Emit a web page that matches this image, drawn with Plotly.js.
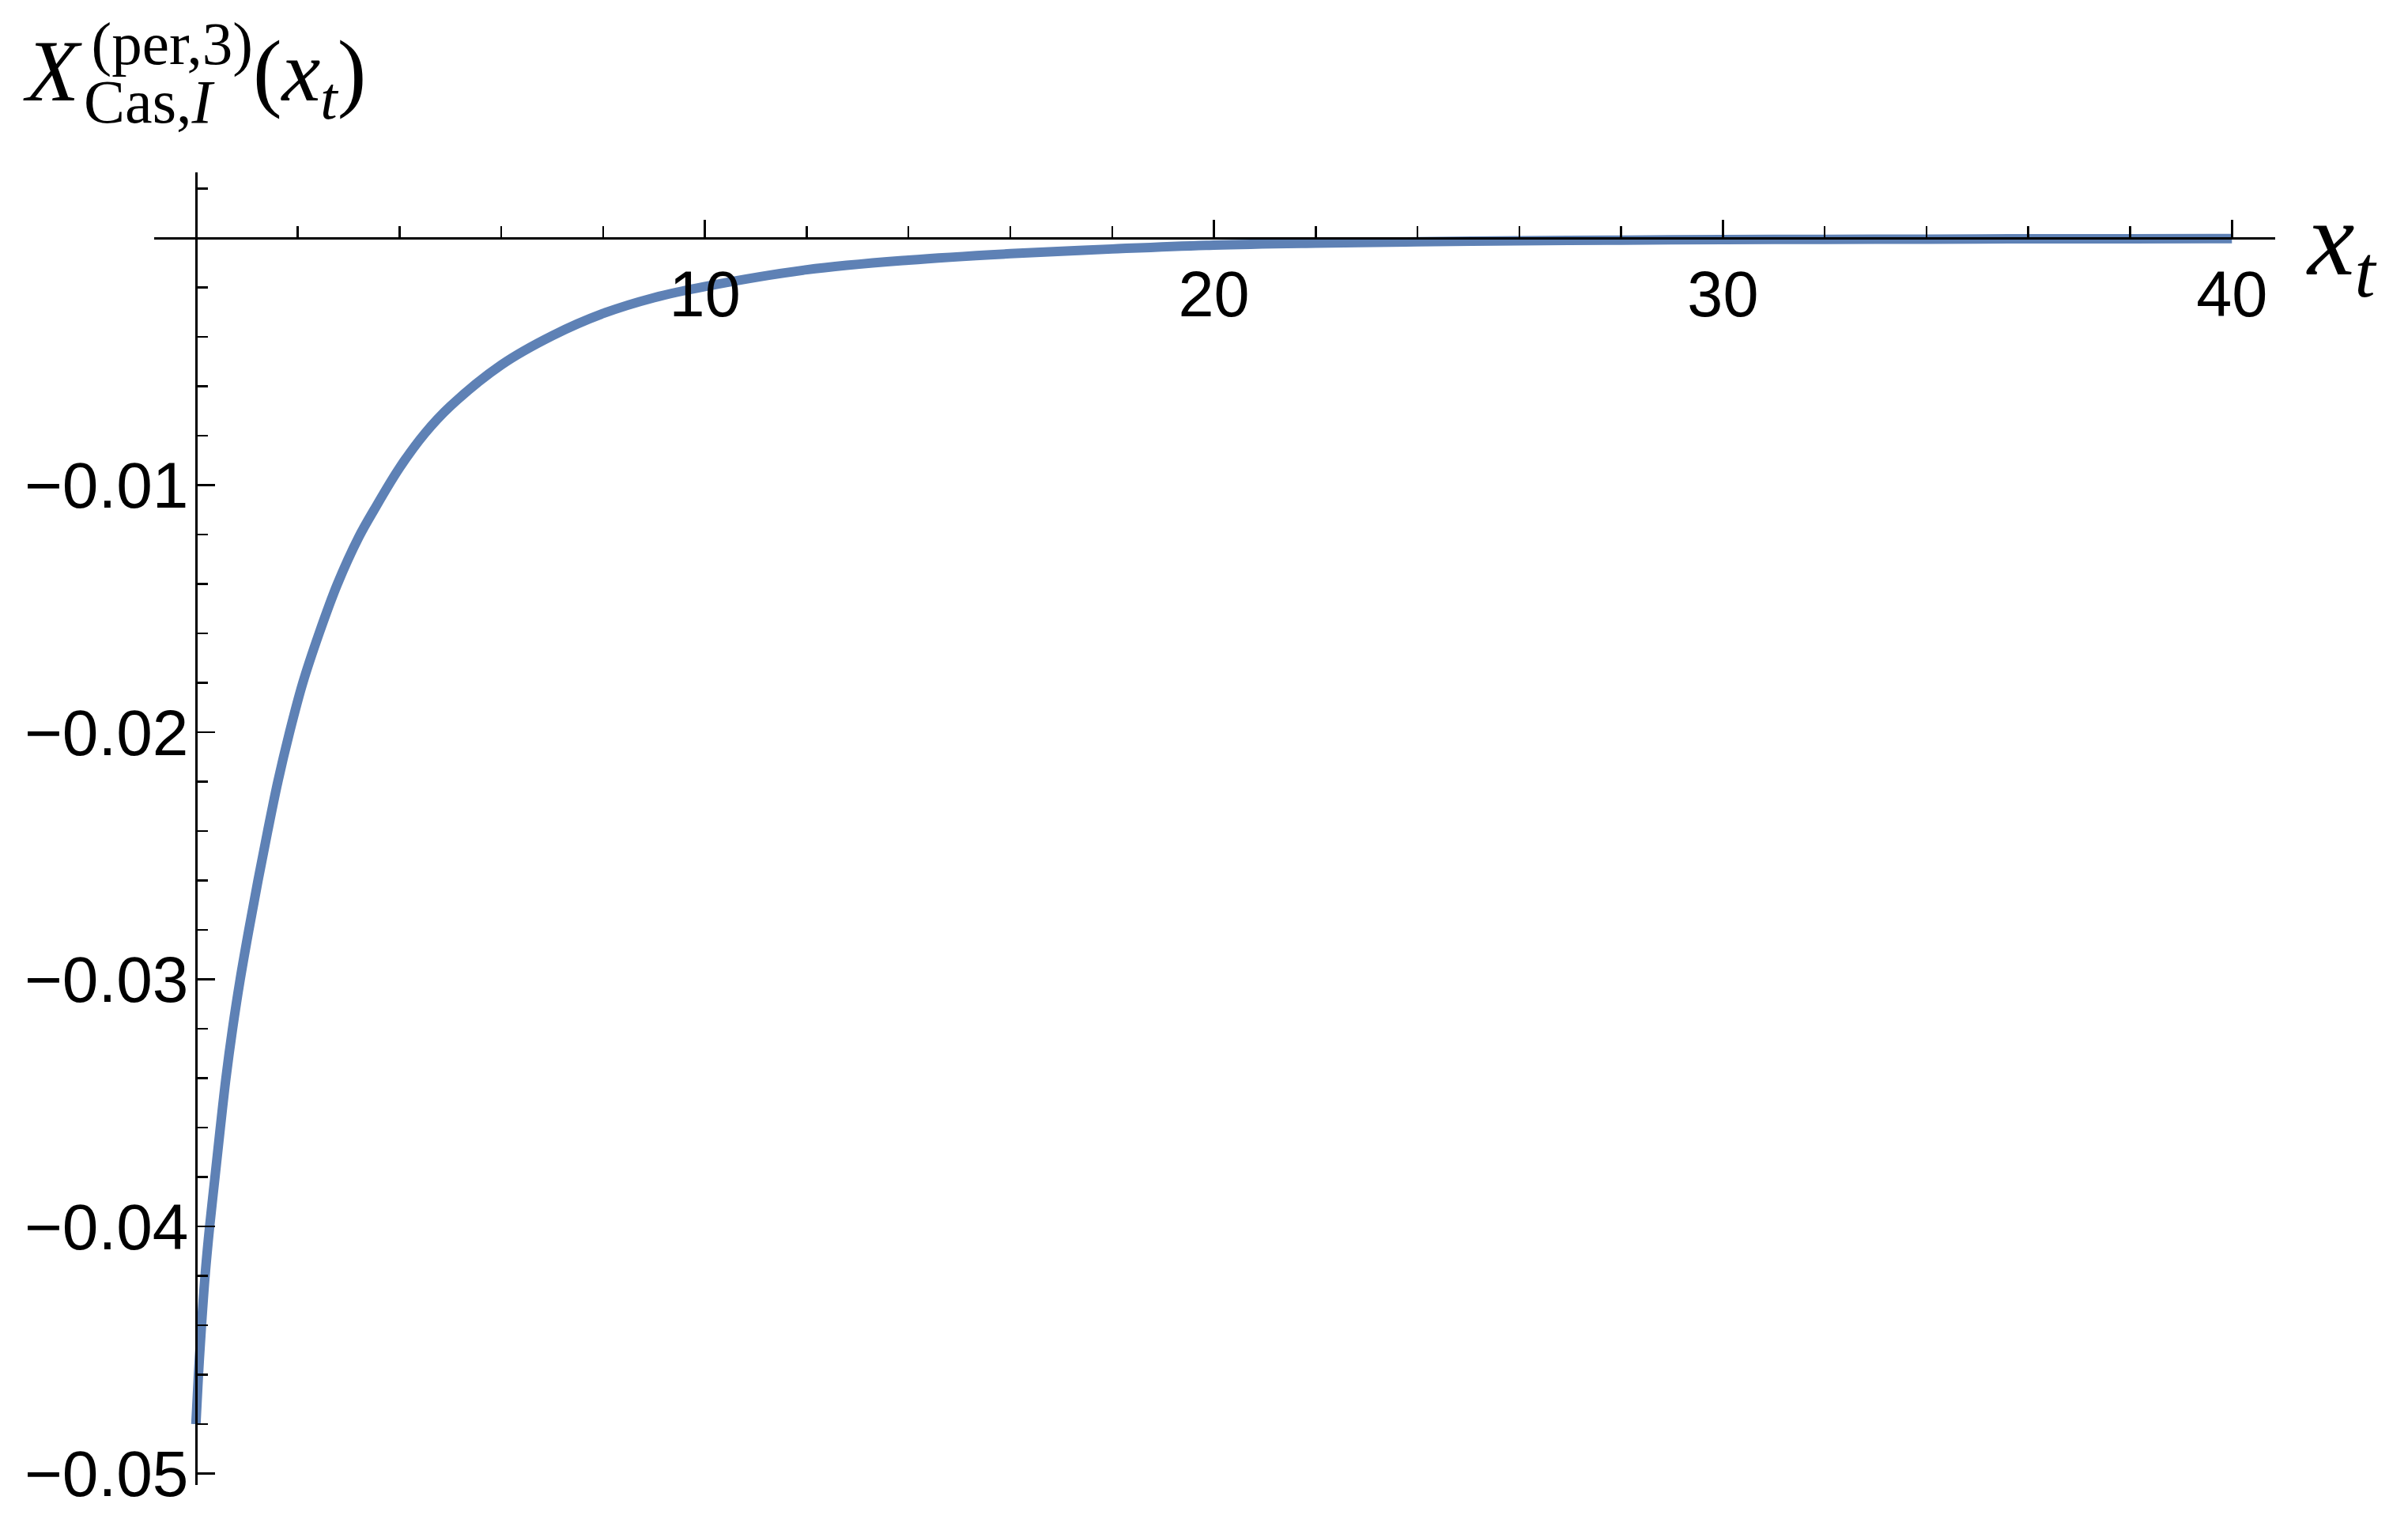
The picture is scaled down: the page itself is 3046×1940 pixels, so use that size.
<!DOCTYPE html>
<html>
<head>
<meta charset="utf-8">
<script src="https://cdn.plot.ly/plotly-3.0.1.min.js"></script>
<style>
  html, body { margin: 0; padding: 0; background: #fff; }
  #chart { width: 3046px; height: 1940px; }
</style>
</head>
<body>
<div id="chart"></div>
<script>
// curve
var xt = [0, 0.05, 0.11, 0.18, 0.27, 0.375, 0.48, 0.59, 0.72, 0.87, 1.04, 1.22, 1.41,
  1.61, 1.84, 2.1, 2.42, 2.78, 3.2, 3.5, 4, 4.5, 5, 6, 7, 8, 9, 10, 12, 14, 16, 18,
  20, 22, 24, 26, 28, 30, 32, 34, 36, 38, 40];
var casimir = [-0.048, -0.046, -0.044, -0.042, -0.040, -0.038, -0.036, -0.034, -0.032,
  -0.030, -0.028, -0.026, -0.024, -0.022, -0.020, -0.018, -0.016, -0.014, -0.0121,
  -0.0110, -0.0093, -0.0079, -0.0068, -0.00513, -0.00395, -0.00305, -0.00241,
  -0.00196, -0.00128, -0.00089, -0.00063, -0.00044, -0.00028, -0.0002, -0.00015,
  -0.00011, -0.00008, -0.00006, -0.00005, -0.00004, -0.00003, -0.00003, -0.00002];

var xTicks = [10, 20, 30, 40];
var xTickText = ['10', '20', '30', '40'];
var yTicks = [-0.05, -0.04, -0.03, -0.02, -0.01];
var yTickText = ['\u22120.05', '\u22120.04', '\u22120.03', '\u22120.02', '\u22120.01'];

var W = 3046, H = 1940;
var m = {l: 195, r: 168, t: 218, b: 62};
var xRange = [-0.82, 40.85];
var yRange = [-0.05046, 0.00266];

// paper coords from page pixels
function px(x) { return (x - m.l) / (W - m.l - m.r); }
function py(y) { return 1 - (y - m.t) / (H - m.t - m.b); }

var serif = 'Liberation Serif, Times New Roman, serif';
var sans = 'Liberation Sans, Arial, sans-serif';

var data = [{
  x: xt,
  y: casimir,
  type: 'scatter',
  mode: 'lines',
  line: {color: '#5E81B5', width: 12, shape: 'spline', smoothing: 1},
  hoverinfo: 'skip'
}];

var tickStyle = {ticks: 'inside', tickwidth: 2.5, tickcolor: '#000'};

var layout = {
  width: W,
  height: H,
  margin: m,
  paper_bgcolor: '#fff',
  plot_bgcolor: '#fff',
  showlegend: false,
  xaxis: Object.assign({
    range: xRange,
    anchor: 'free',
    position: (0 - yRange[0]) / (yRange[1] - yRange[0]),
    showgrid: false,
    zeroline: false,
    showline: true,
    linecolor: '#000',
    linewidth: 3,
    ticklen: 22,
    tickmode: 'array',
    tickvals: xTicks,
    ticktext: xTickText,
    tickfont: {family: sans, size: 81, color: '#000'},
    minor: Object.assign({ticklen: 14, tickmode: 'linear', tick0: 0, dtick: 2, showgrid: false}, tickStyle),
    automargin: false
  }, tickStyle),
  yaxis: Object.assign({
    range: yRange,
    anchor: 'free',
    position: (0 - xRange[0]) / (xRange[1] - xRange[0]),
    showgrid: false,
    zeroline: false,
    showline: true,
    linecolor: '#000',
    linewidth: 3,
    ticklen: 22,
    tickmode: 'array',
    tickvals: yTicks,
    ticktext: yTickText,
    tickfont: {family: sans, size: 82, color: '#000'},
    ticklabelstandoff: -8,
    minor: Object.assign({ticklen: 13, tickmode: 'linear', tick0: 0, dtick: 0.002, showgrid: false}, tickStyle),
    automargin: false
  }, tickStyle),
  annotations: [
    {text: '<i>X</i><sup>\u2009(per,3)</sup>(<i>x</i><sub><i>t</i></sub>)', x: px(27), y: py(89),
      xref: 'paper', yref: 'paper', xanchor: 'left', yanchor: 'middle', showarrow: false,
      font: {family: serif, size: 110, color: '#000'}},
    {text: 'Cas,<i>I</i>', x: px(104), y: py(129), xref: 'paper', yref: 'paper',
      xanchor: 'left', yanchor: 'middle', showarrow: false,
      font: {family: serif, size: 78, color: '#000'}},
    {text: '<i>x</i><sub><i>t</i></sub>', x: px(2915), y: py(311), xref: 'paper', yref: 'paper',
      xanchor: 'left', yanchor: 'middle', showarrow: false,
      font: {family: serif, size: 134, color: '#000'}}
  ]
};

Plotly.newPlot('chart', data, layout, {staticPlot: true, displayModeBar: false});
</script>
</body>
</html>
